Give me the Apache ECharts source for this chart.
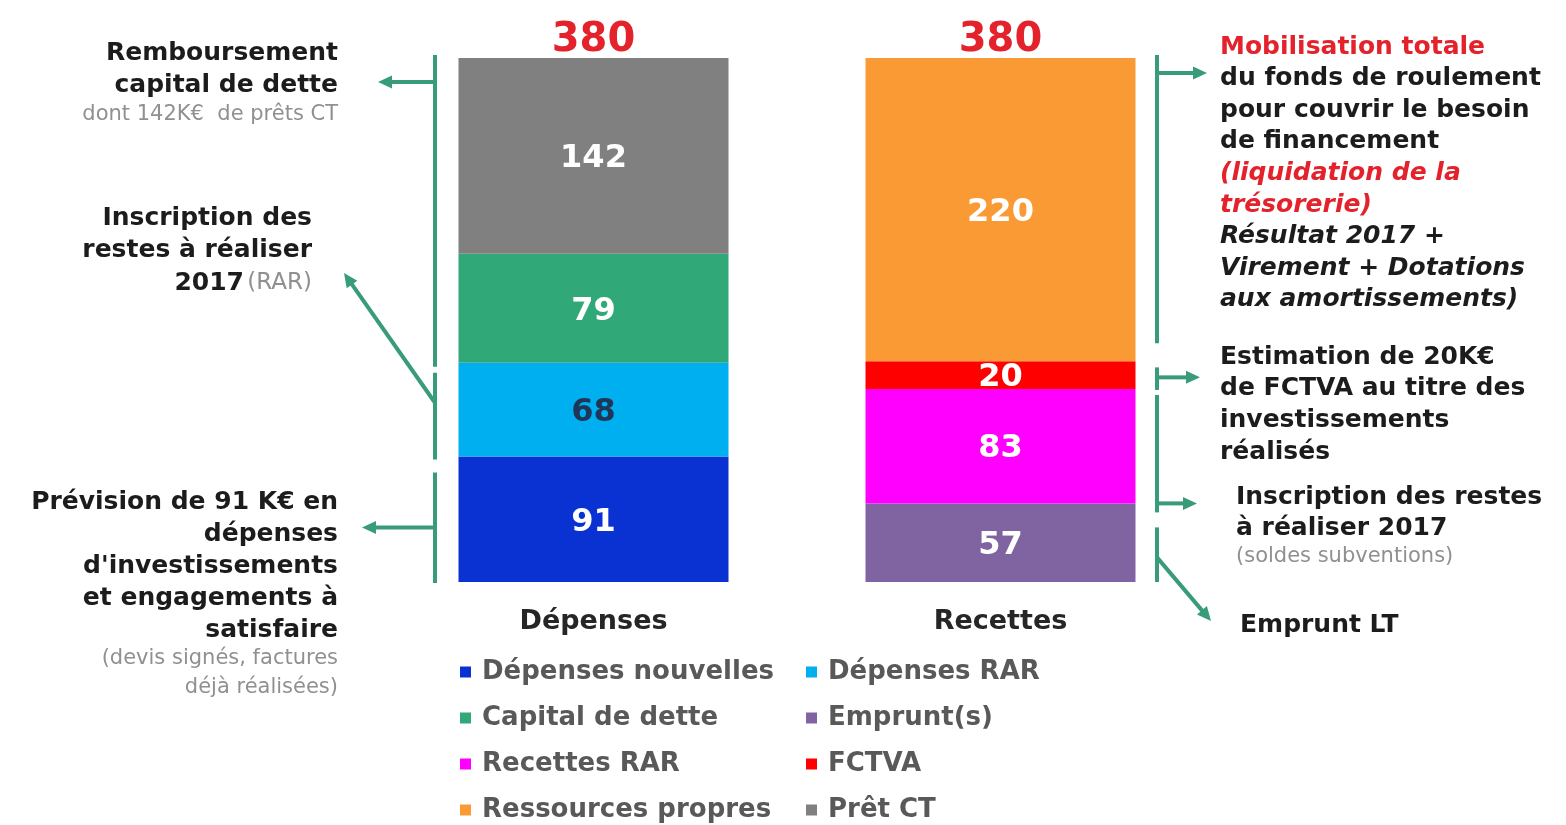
<!DOCTYPE html>
<html>
<head>
<meta charset="utf-8">
<script src="https://cdn.jsdelivr.net/npm/echarts@6/dist/echarts.min.js"></script>
<style>
  html, body { margin: 0; padding: 0; background: #ffffff; }
  #chart { width: 1566px; height: 825px; }
</style>
</head>
<body>
<div id="chart"></div>
<script>
// Budget 2018 : équilibre dépenses / recettes d'investissement (K€)
const categories = ['Dépenses', 'Recettes'];

const depensesNouvelles = [91, null];
const depensesRAR = [68, null];
const capitalDette = [79, null];
const pretCT = [142, null];

const emprunts = [null, 57];
const recettesRAR = [null, 83];
const fctva = [null, 20];
const ressourcesPropres = [null, 220];

const totals = [380, 380];

const legendLeft = ['Dépenses nouvelles', 'Capital de dette', 'Recettes RAR', 'Ressources propres'];
const legendRight = ['Dépenses RAR', 'Emprunt(s)', 'FCTVA', 'Prêt CT'];

// Commentaires de part et d'autre des barres (une entrée par ligne)
const notesLeft = [
  ['{b|Remboursement}', '{b|capital de dette}', '{s|dont 142K€  de prêts CT}'],
  ['{b|Inscription des}', '{b|restes à réaliser}', '{b|2017} {g|(RAR)}'],
  ['{b|Prévision de 91 K€ en}', '{b|dépenses}', "{b|d'investissements}", '{b|et engagements à}',
   '{b|satisfaire}', '{s|(devis signés, factures}', '{s|déjà réalisées)}']
];
const notesRight = [
  ['{r|Mobilisation totale}', '{b|du fonds de roulement}', '{b|pour couvrir le besoin}', '{b|de financement}',
   '{ri|(liquidation de la}', '{ri|trésorerie)}', '{bi|Résultat 2017 +}', '{bi|Virement + Dotations}',
   '{bi|aux amortissements)}'],
  ['{b|Estimation de 20K€}', '{b|de FCTVA au titre des}', '{b|investissements}', '{b|réalisés}'],
  ['{b|Inscription des restes}', '{b|à réaliser 2017}', '{s|(soldes subventions)}'],
  ['{b|Emprunt LT}']
];

const FONT = '"DejaVu Sans", Verdana, sans-serif';
const GREEN = '#389c78';
const RED = '#e4222c';
const INK = '#1c1c1c';
const GREY = '#909090';

const segments = [
  { name: 'Dépenses nouvelles', data: depensesNouvelles, color: '#0a32d2', label: '#ffffff' },
  { name: 'Dépenses RAR', data: depensesRAR, color: '#00aff0', label: '#1f3658' },
  { name: 'Capital de dette', data: capitalDette, color: '#31a878', label: '#ffffff' },
  { name: 'Prêt CT', data: pretCT, color: '#808080', label: '#ffffff' },
  { name: 'Emprunt(s)', data: emprunts, color: '#8064a2', label: '#ffffff' },
  { name: 'Recettes RAR', data: recettesRAR, color: '#ff00ff', label: '#ffffff' },
  { name: 'FCTVA', data: fctva, color: '#ff0000', label: '#ffffff' },
  { name: 'Ressources propres', data: ressourcesPropres, color: '#fa9a35', label: '#ffffff' }
];

const series = segments.map(s => ({
  name: s.name,
  type: 'bar',
  stack: 'budget',
  data: s.data,
  barWidth: 270,
  barGap: '-100%',
  itemStyle: { color: s.color },
  label: {
    show: true,
    position: 'inside',
    offset: [0, 3],
    color: s.label,
    fontFamily: FONT,
    fontWeight: 'bold',
    fontSize: 32,
    formatter: p => p.value
  },
  emphasis: { disabled: true }
}));

// Barre transparente portant le total au-dessus de chaque colonne
series.push({
  name: 'Total',
  type: 'bar',
  data: totals,
  barWidth: 270,
  barGap: '-100%',
  silent: true,
  itemStyle: { color: 'rgba(0,0,0,0)' },
  label: {
    show: true,
    position: 'top',
    distance: -3,
    color: RED,
    fontFamily: FONT,
    fontWeight: 'bold',
    fontSize: 40
  }
});

const legendCommon = {
  orient: 'vertical',
  top: 659,
  height: 190,
  padding: 0,
  icon: 'rect',
  itemWidth: 11,
  itemHeight: 11,
  itemGap: 20,
  selectedMode: false,
  textStyle: {
    fontFamily: FONT,
    fontWeight: 'bold',
    fontSize: 26,
    lineHeight: 26,
    color: '#595959',
    padding: [0, 0, 0, 6]
  }
};

const chart = echarts.init(document.getElementById('chart'));
chart.setOption({
  animation: false,
  backgroundColor: '#ffffff',
  grid: { left: 390, top: 58, width: 814, height: 524 },
  xAxis: {
    type: 'category',
    data: categories,
    axisLine: { show: false },
    axisTick: { show: false },
    axisLabel: {
      margin: 26,
      fontFamily: FONT,
      fontWeight: 'bold',
      fontSize: 27,
      color: '#262626'
    }
  },
  yAxis: {
    type: 'value',
    min: 0,
    max: 380,
    show: false,
    splitLine: { show: false }
  },
  legend: [
    Object.assign({ data: legendLeft, left: 460 }, legendCommon),
    Object.assign({ data: legendRight, left: 806 }, legendCommon)
  ],
  series: series
});

// ---- annotations : accolades vertes, flèches et textes ----
const yOf = v => chart.convertToPixel({ yAxisIndex: 0 }, v);

const rich = {
  b: { fontFamily: FONT, fontWeight: 'bold', fontSize: 25, fill: INK },
  r: { fontFamily: FONT, fontWeight: 'bold', fontSize: 25, fill: RED },
  ri: { fontFamily: FONT, fontWeight: 'bold', fontStyle: 'italic', fontSize: 25, fill: RED },
  bi: { fontFamily: FONT, fontWeight: 'bold', fontStyle: 'italic', fontSize: 25, fill: INK },
  s: { fontFamily: FONT, fontSize: 21, fill: GREY },
  g: { fontFamily: FONT, fontSize: 23, fill: GREY }
};

function textBlock(lines, x, y, step, align) {
  const out = [];
  let cy = y;
  lines.forEach((line, i) => {
    if (i > 0) cy += line.startsWith('{s|') ? 29 : step;
    out.push({
      type: 'text',
      silent: true,
      style: {
        x: x, y: cy, text: line, rich: rich,
        align: align, verticalAlign: 'middle',
        textAlign: align, textVerticalAlign: 'middle'
      }
    });
  });
  return out;
}

function vline(x, y1, y2) {
  return { type: 'line', silent: true, shape: { x1: x, y1: y1, x2: x, y2: y2 },
           style: { stroke: GREEN, lineWidth: 4 } };
}

function arrow(x1, y1, x2, y2) {
  const dx = x2 - x1, dy = y2 - y1;
  const len = Math.sqrt(dx * dx + dy * dy);
  const ux = dx / len, uy = dy / len;
  const head = 14, half = 6.5;
  const bx = x2 - ux * head, by = y2 - uy * head;
  return [
    { type: 'line', silent: true, shape: { x1: x1, y1: y1, x2: bx + ux * 2, y2: by + uy * 2 },
      style: { stroke: GREEN, lineWidth: 4 } },
    { type: 'polygon', silent: true,
      shape: { points: [[x2, y2], [bx - uy * half, by + ux * half], [bx + uy * half, by - ux * half]] },
      style: { fill: GREEN } }
  ];
}

// bornes cumulées des barres
const dep1 = depensesNouvelles[0], dep2 = dep1 + depensesRAR[0];
const rec1 = emprunts[1], rec2 = rec1 + recettesRAR[1], rec3 = rec2 + fctva[1];
const yTop = yOf(totals[0]), yBase = yOf(0);

const xl = 435, xr = 1157;
const graphics = [];

// côté dépenses
graphics.push(vline(xl, yTop - 3, yOf(dep2) + 4));
graphics.push(vline(xl, yOf(dep2) + 10, yOf(dep1) + 3));
graphics.push(vline(xl, yOf(dep1) + 16, yBase + 1));
graphics.push(...arrow(xl, yTop + 24, 378, yTop + 24));
graphics.push(...arrow(xl, yOf(dep2) + 40, 344, 273));
graphics.push(...arrow(xl, yOf(dep1) + 71, 362, yOf(dep1) + 71));

// côté recettes
graphics.push(vline(xr, yTop - 3, yOf(rec3) - 18));
graphics.push(vline(xr, yOf(rec3) + 6, yOf(rec2) + 1));
graphics.push(vline(xr, yOf(rec2) + 6, yOf(rec1) + 9));
graphics.push(vline(xr, yOf(rec1) + 24, yBase));
graphics.push(...arrow(xr, yTop + 15, 1207, yTop + 15));
graphics.push(...arrow(xr, yOf(rec3) + 16, 1200, yOf(rec3) + 16));
graphics.push(...arrow(xr, yOf(rec1), 1197, yOf(rec1)));
graphics.push(...arrow(xr, yOf(rec1) + 54, 1211, 621));

// textes
graphics.push(...textBlock(notesLeft[0], 338, 53, 32.5, 'right'));
graphics.push(...textBlock(notesLeft[1], 312, 218, 32.5, 'right'));
graphics.push(...textBlock(notesLeft[2], 338, 502, 32, 'right'));
graphics.push(...textBlock(notesRight[0], 1220, 47, 31.6, 'left'));
graphics.push(...textBlock(notesRight[1], 1220, 357, 31.7, 'left'));
graphics.push(...textBlock(notesRight[2], 1236, 497, 31, 'left'));
graphics.push(...textBlock(notesRight[3], 1240, 625, 31, 'left'));

chart.setOption({ graphic: { elements: graphics } });
</script>
</body>
</html>
